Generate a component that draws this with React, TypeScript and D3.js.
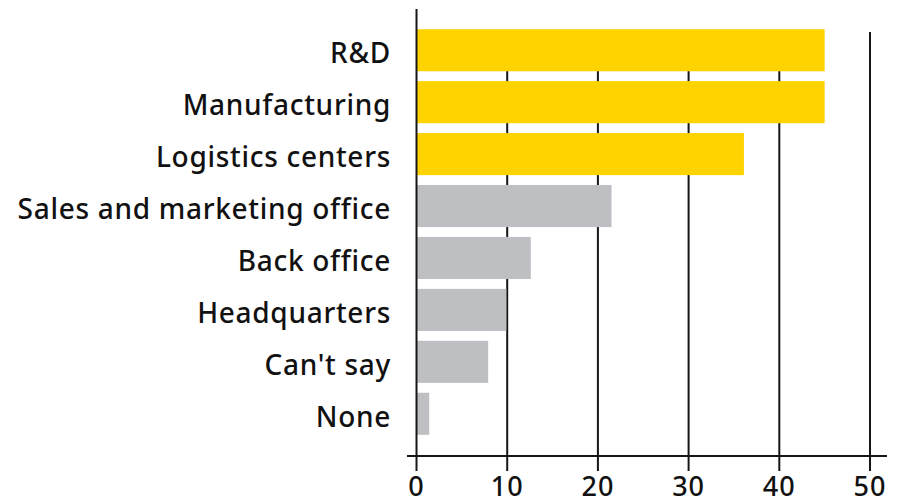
import React from "react";
import * as d3 from "d3";

const categories = [
  "R&D",
  "Manufacturing",
  "Logistics centers",
  "Sales and marketing office",
  "Back office",
  "Headquarters",
  "Can't say",
  "None",
];
const values = [45.0, 45.0, 36.1, 21.5, 12.6, 9.9, 7.9, 1.4];
const highlighted = [true, true, true, false, false, false, false, false];
const tickValues = [0, 10, 20, 30, 40, 50];

const W = 901;
const H = 503;
const FONT = "'Noto Sans', sans-serif";

export default function App() {
  const x = d3.scaleLinear().domain([0, 50]).range([416.5, 870]);
  const y = d3
    .scaleBand<string>()
    .domain(categories)
    .range([24, 440])
    .paddingInner(0.19)
    .paddingOuter(0.1);
  const axisY = 456;
  const lineColor = "#161616";

  return (
    <svg
      width={W}
      height={H}
      style={{ position: "absolute", left: 0, top: 0, background: "#fff" }}
    >
      {tickValues.slice(1).map((t) => (
        <line
          key={"g" + t}
          x1={x(t)}
          x2={x(t)}
          y1={32}
          y2={axisY}
          stroke={lineColor}
          strokeWidth={2}
        />
      ))}
      {categories.map((c, i) => (
        <rect
          key={c}
          x={x(0)}
          y={y(c)}
          width={x(values[i]) - x(0)}
          height={y.bandwidth()}
          fill={highlighted[i] ? "#FFD300" : "#BEBFC3"}
        />
      ))}
      <line x1={x(0)} x2={x(0)} y1={9} y2={axisY} stroke={lineColor} strokeWidth={2} />
      <line x1={407} x2={887} y1={axisY} y2={axisY} stroke={lineColor} strokeWidth={2} />
      {tickValues.map((t) => (
        <g key={"t" + t}>
          <line
            x1={x(t)}
            x2={x(t)}
            y1={axisY}
            y2={471}
            stroke={lineColor}
            strokeWidth={2}
          />
          <text
            x={x(t)}
            y={496}
            textAnchor="middle"
            fontFamily={FONT}
            fontSize={27}
            fontWeight={500}
            letterSpacing={1}
            fill="#111"
          >
            {t}
          </text>
        </g>
      ))}
      {categories.map((c) => (
        <text
          key={"l" + c}
          x={391}
          y={(y(c) as number) + y.bandwidth() / 2 + 13}
          textAnchor="end"
          fontFamily={FONT}
          fontSize={28}
          fontWeight={500}
          letterSpacing={0.7}
          fill="#111"
        >
          {c}
        </text>
      ))}
    </svg>
  );
}
